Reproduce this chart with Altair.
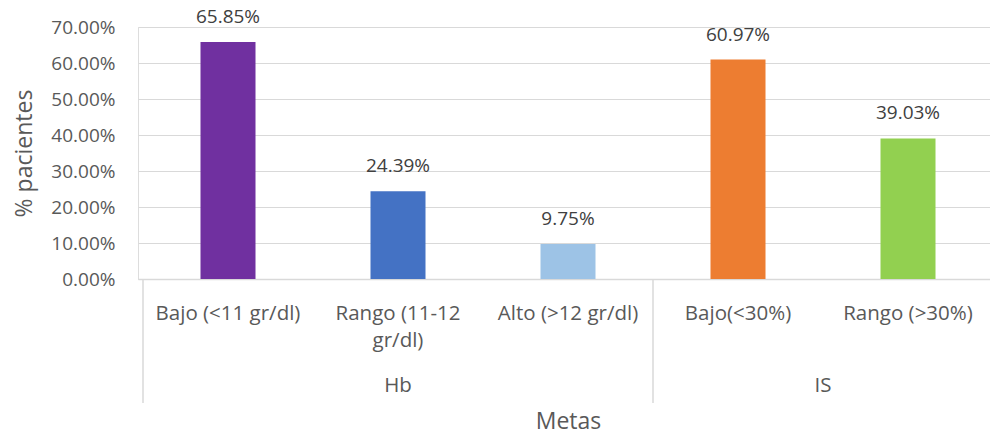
import altair as alt
import pandas as pd

categories = ["Bajo (<11 gr/dl)", "Rango (11-12\ngr/dl)", "Alto (>12 gr/dl)", "Bajo(<30%)", "Rango (>30%)"]
groups = ["Hb", "Hb", "Hb", "IS", "IS"]
values = [0.6585, 0.2439, 0.0975, 0.6097, 0.3903]
colors = ["#7030A0", "#4472C4", "#9DC3E6", "#ED7D31", "#92D050"]
group_names = ["Hb", "IS"]
group_centers = [1.5, 4.0]
separators = [0, 3, 5]
y_ticks = [0, 0.1, 0.2, 0.3, 0.4, 0.5, 0.6, 0.7]

FONT = "Open Sans"

df = pd.DataFrame({
    "cat": categories,
    "group": groups,
    "value": values,
    "pos": [i + 0.5 for i in range(len(categories))],
})
gdf = pd.DataFrame({"name": group_names, "pos": group_centers})
sdf = pd.DataFrame({"pos": separators})

xscale = alt.Scale(domain=[0, 5], range=[0, 860])
yscale = alt.Scale(domain=[0, 0.7])

xaxis = alt.Axis(title="Metas", labels=False, ticks=False, grid=False,
                 domain=True, domainColor="#D9D9D9", domainWidth=1.5,
                 titleFont=FONT, titleFontSize=23, titleFontWeight="normal",
                 titleColor="#595959", titlePadding=131)
yaxis = alt.Axis(title="% pacientes", format=".2%", values=y_ticks,
                 domain=False, ticks=False, tickSize=0, labelPadding=23,
                 labelOverlap=False,
                 labelFont=FONT, labelFontSize=19, labelColor="#595959",
                 gridColor="#D9D9D9", gridWidth=1.2,
                 titleFont=FONT, titleFontSize=23, titleFontWeight="normal",
                 titleColor="#595959", titlePadding=14)

X = alt.X("pos:Q", scale=xscale, axis=xaxis, title="Metas")
Y = alt.Y("value:Q", scale=yscale, axis=yaxis, title="% pacientes")

base = alt.Chart(df)

bars = base.mark_bar(size=55).encode(
    x=X, y=Y,
    color=alt.Color("cat:N", scale=alt.Scale(domain=categories, range=colors), legend=None),
)

value_labels = base.mark_text(baseline="alphabetic", dy=-19, font=FONT, fontSize=19, color="#404040").encode(
    x=X, y=Y,
    text=alt.Text("value:Q", format=".2%"),
)

cat_labels = base.mark_text(baseline="alphabetic", lineBreak="\n", lineHeight=27, font=FONT, fontSize=20.5,
                            color="#595959").encode(
    x=X,
    y=alt.value(293),
    text="cat:N",
)

group_labels = alt.Chart(gdf).mark_text(baseline="middle", font=FONT, fontSize=20.5, color="#595959").encode(
    x=X,
    y=alt.value(359),
    text="name:N",
)

sep_rules = alt.Chart(sdf).mark_rule(color="#D9D9D9", strokeWidth=1.5).encode(
    x=X,
    y=alt.value(252),
    y2=alt.value(376),
)

chart = alt.layer(bars, value_labels, sep_rules, cat_labels, group_labels).properties(
    width=852, height=252,
    autosize=alt.AutoSizeParams(type="none"),
    padding={"left": 138, "top": 27, "right": 0, "bottom": 158},
).configure_view(stroke=None).configure(background="white")

chart.save("out.html", embed_options={"renderer": "svg", "actions": False})
